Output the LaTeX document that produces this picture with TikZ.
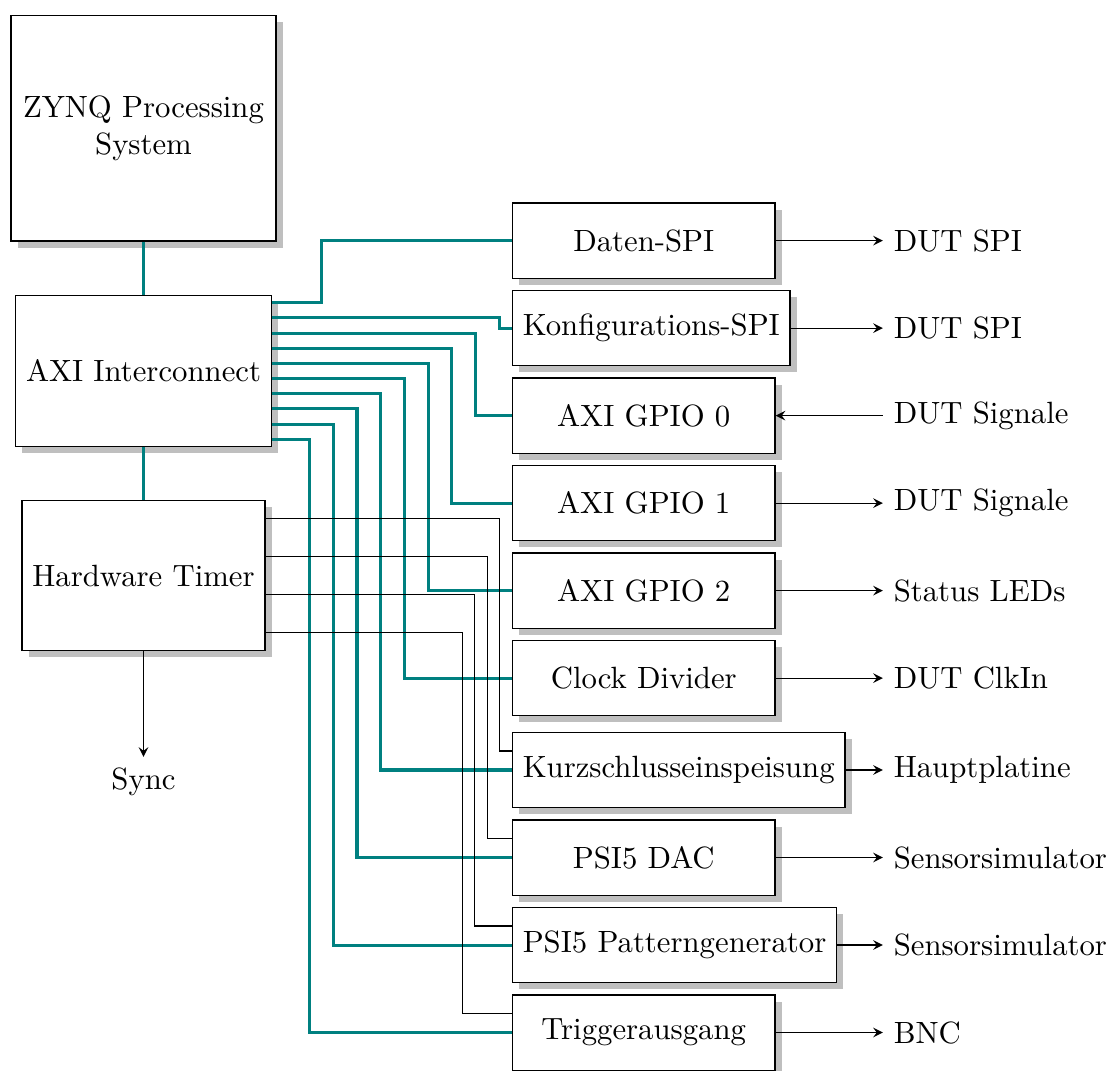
\documentclass[tikz,border=0pt]{standalone}
\usepackage{tikz}
\usetikzlibrary{shadows,calc}
\definecolor{busteal}{RGB}{0,128,128}

\begin{document}
\begin{tikzpicture}[>=stealth,
  block/.style={draw, fill=white, drop shadow, minimum width=3cm, minimum height=0.86cm, anchor=west},
  bus/.style={draw=busteal, line width=1pt}]
\useasboundingbox (0cm,0cm) rectangle (12.754cm,-12.229cm);

\node[draw, fill=white, drop shadow, align=center, minimum width=3.03cm, minimum height=2.58cm] (zynq) at (1.64cm,-1.463cm) {ZYNQ Processing\\System};
\node[draw, fill=white, drop shadow, minimum height=1.72cm] (axi) at (1.64cm,-4.24cm) {AXI Interconnect};
\node[draw, fill=white, drop shadow, minimum height=1.72cm] (timer) at (1.64cm,-6.577cm) {Hardware Timer};
\node[anchor=north] (sync) at (1.64cm,-8.65cm) {Sync};

\node[block] (dspi) at (5.85cm,-2.75cm) {Daten-SPI};
\node[block] (kspi) at (5.85cm,-3.75cm) {Konfigurations-SPI};
\node[block] (gpio0) at (5.85cm,-4.75cm) {AXI GPIO 0};
\node[block] (gpio1) at (5.85cm,-5.75cm) {AXI GPIO 1};
\node[block] (gpio2) at (5.85cm,-6.75cm) {AXI GPIO 2};
\node[block] (clkdiv) at (5.85cm,-7.75cm) {Clock Divider};
\node[block] (kurz) at (5.85cm,-8.8cm) {Kurzschlusseinspeisung};
\node[block] (dac) at (5.85cm,-9.8cm) {PSI5 DAC};
\node[block] (pat) at (5.85cm,-10.8cm) {PSI5 Patterngenerator};
\node[block] (trig) at (5.85cm,-11.8cm) {Triggerausgang};

\node[anchor=west] (out1) at (10.09cm,-2.75cm) {DUT SPI};
\node[anchor=west] (out2) at (10.09cm,-3.75cm) {DUT SPI};
\node[anchor=west] (out3) at (10.09cm,-4.75cm) {DUT Signale};
\node[anchor=west] (out4) at (10.09cm,-5.75cm) {DUT Signale};
\node[anchor=west] (out5) at (10.09cm,-6.75cm) {Status LEDs};
\node[anchor=west] (out6) at (10.09cm,-7.75cm) {DUT ClkIn};
\node[anchor=west] (out7) at (10.09cm,-8.8cm) {Hauptplatine};
\node[anchor=west] (out8) at (10.09cm,-9.8cm) {Sensorsimulator};
\node[anchor=west] (out9) at (10.09cm,-10.8cm) {Sensorsimulator};
\node[anchor=west] (out10) at (10.09cm,-11.8cm) {BNC};

% AXI bus
\draw[bus] (zynq) -- (axi);
\draw[bus] (axi) -- (timer);
\coordinate (s0) at ($(axi.north east)!0.05!(axi.south east)$);
\draw[bus] (s0) -| ([xshift=-2.18cm]dspi.west) -- (dspi.west);
\foreach \t [count=\k] in {kspi,gpio0,gpio1,gpio2,clkdiv,kurz,dac,pat,trig}{
  \pgfmathsetmacro\d{0.144+(\k-1)*0.271}
  \coordinate (s\k) at ($(axi.north east)!{(\k+0.5)/10}!(axi.south east)$);
  \draw[bus] (s\k) -| ([xshift=-\d cm]\t.west) -- (\t.west);
}

% timer lines
\foreach \t/\f/\d in {kurz/1/0.145, dac/3/0.282, pat/5/0.423, trig/7/0.563}{
  \coordinate (\t-in) at ($(\t.north west)!0.25!(\t.south west)$);
  \coordinate (\t-tm) at ($(timer.north east)!\f/8!(timer.south east)$);
  \draw (\t-tm) -| ([xshift=-\d cm]\t-in) -- (\t-in);
}

% outputs
\draw[->] (timer) -- (sync);
\draw[->] (dspi) -- (out1);
\draw[->] (kspi) -- (out2);
\draw[->] (out3) -- (gpio0);
\draw[->] (gpio1) -- (out4);
\draw[->] (gpio2) -- (out5);
\draw[->] (clkdiv) -- (out6);
\draw[->] (kurz) -- (out7);
\draw[->] (dac) -- (out8);
\draw[->] (pat) -- (out9);
\draw[->] (trig) -- (out10);

\end{tikzpicture}
\end{document}
